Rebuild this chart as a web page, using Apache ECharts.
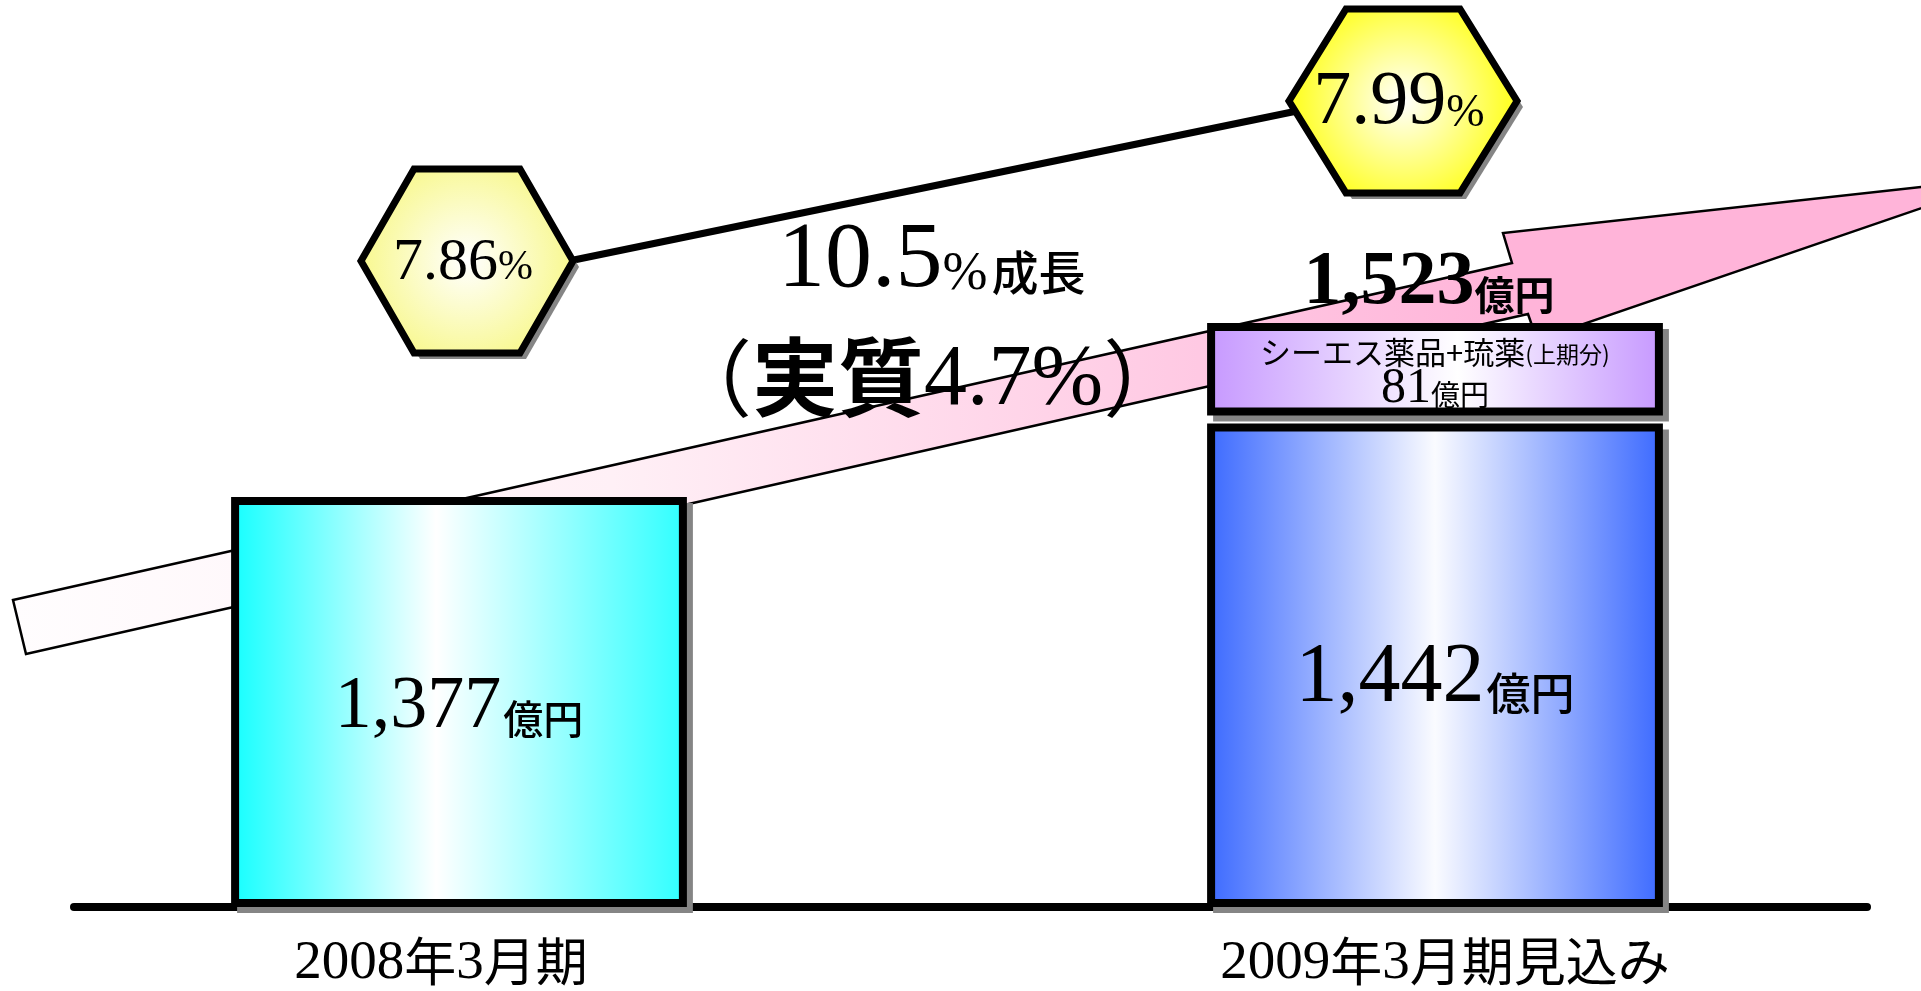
<!DOCTYPE html>
<html>
<head>
<meta charset="utf-8">
<script src="https://cdn.jsdelivr.net/npm/echarts@6/dist/echarts.min.js"></script>
<style>
html,body{margin:0;padding:0;background:#fff;}
#c{width:1921px;height:991px;}
</style>
</head>
<body>
<div id="c"></div>
<script>
// ---------------- data ----------------
const categories = ['2008年3月期', '2009年3月期見込み'];
const baseSales = [1377, 1442];          // 億円
const addedSales = [null, 81];           // シーエス薬品+琉薬（上期分）
const addedLabel = 'シーエス薬品+琉薬';
const addedNote = '(上期分)';
const margins = [7.86, 7.99];            // %
const growthRate = 10.5;                 // %
const realGrowthRate = 4.7;              // %
const unitLabel = '億円';
const growthWord = '成長';
const realWord = '実質';

// ---------------- scales ----------------
const AXIS_MIN = 1040, AXIS_MAX = 1590;
const MARGIN_MIN = 7.5, MARGIN_MAX = 8.0;

const SERIF = '"Liberation Serif","Times New Roman",serif';
const SANS = '"Noto Sans CJK JP","Noto Sans",sans-serif';

const BAR_FRAC = 0.467, BORDER = 8, SHADOW = 6, GAP = 8;
const fmt = v => v.toLocaleString('en-US');

function grad(stops) {
  return {type: 'linear', x: 0, y: 0, x2: 1, y2: 0,
    colorStops: stops.map(s => ({offset: s[0], color: s[1]}))};
}
const barFills = [
  grad([[0, '#14ffff'], [0.45, '#ffffff'], [1, '#2effff']]),
  grad([[0, '#3b69ff'], [0.5, '#fafbff'], [1, '#3b69ff']])
];
const addedFill = grad([[0, '#c698ff'], [0.55, '#ffffff'], [1, '#c698ff']]);
const numSize = [74, 84];
const unitSize = [40, 44];
const labelDy = [10, 18];

function boxEls(x0, y0, w, h, fill) {
  return [
    {type: 'rect', shape: {x: x0 + SHADOW, y: y0 + SHADOW, width: w, height: h},
     style: {fill: '#858585'}},
    {type: 'rect', shape: {x: x0 + BORDER / 2, y: y0 + BORDER / 2, width: w - BORDER, height: h - BORDER},
     style: {fill: fill, stroke: '#000', lineWidth: BORDER}}
  ];
}

function renderBar(params, api) {
  const i = api.value(0), v = api.value(1);
  const hasTop = addedSales[i] != null;
  const top = api.coord([i, v]);
  const base = api.coord([i, AXIS_MIN]);
  const bw = api.size([1, 0])[0] * BAR_FRAC;
  const x0 = top[0] - bw / 2;
  const y0 = top[1] + (hasTop ? GAP / 2 : 0);
  const y1 = base[1] + BORDER;
  const children = boxEls(x0, y0, bw, y1 - y0, barFills[i]);
  children.push({
    type: 'text',
    style: {
      x: top[0], y: (y0 + base[1]) / 2 + labelDy[i],
      text: '{n|' + fmt(v) + '}{u|' + unitLabel + '}',
      align: 'center', verticalAlign: 'middle',
      rich: {
        n: {fontFamily: SERIF, fontSize: numSize[i], fill: '#000', verticalAlign: 'bottom',
            textShadowColor: '#fff', textShadowOffsetX: 2, textShadowOffsetY: 2},
        u: {fontFamily: SANS, fontSize: unitSize[i], fontWeight: 500, fill: '#000', verticalAlign: 'bottom',
            padding: [0, 0, 6, 2],
            textShadowColor: '#fff', textShadowOffsetX: 2, textShadowOffsetY: 2}
      }
    }
  });
  return {type: 'group', children: children};
}

function renderAdded(params, api) {
  const i = api.value(0), b = api.value(1), a = api.value(2);
  const top = api.coord([i, b + a]);
  const bot = api.coord([i, b]);
  const bw = api.size([1, 0])[0] * BAR_FRAC;
  const x0 = top[0] - bw / 2;
  const y0 = top[1];
  const y1 = bot[1] - GAP / 2;
  const children = boxEls(x0, y0, bw, y1 - y0, addedFill);
  children.push({
    type: 'text',
    style: {
      x: top[0], y: y0 + 29, text: '{k|' + addedLabel + '}{s|' + addedNote + '}',
      align: 'center', verticalAlign: 'middle',
      rich: {
        k: {fontFamily: SANS, fontSize: 31, fill: '#000', verticalAlign: 'bottom'},
        s: {fontFamily: SANS, fontSize: 23, fill: '#000', verticalAlign: 'bottom', padding: [0, 0, 2, 0]}
      }
    }
  });
  children.push({
    type: 'text',
    style: {
      x: top[0], y: y1 - 2, text: '{n|' + fmt(a) + '}{u|' + unitLabel + '}',
      align: 'center', verticalAlign: 'bottom',
      rich: {
        n: {fontFamily: SERIF, fontSize: 50, fill: '#000', verticalAlign: 'bottom'},
        u: {fontFamily: SANS, fontSize: 29, fill: '#000', verticalAlign: 'bottom', padding: [0, 0, 4, 0]}
      }
    }
  });
  children.push({
    type: 'text',
    style: {
      x: top[0] - 6, y: y0 - 2, text: '{n|' + fmt(b + a) + '}{u|' + unitLabel + '}',
      align: 'center', verticalAlign: 'bottom',
      rich: {
        n: {fontFamily: SERIF, fontSize: 76, fontWeight: 'bold', fill: '#000', verticalAlign: 'bottom',
            textShadowColor: '#aaa', textShadowOffsetX: 3, textShadowOffsetY: 3},
        u: {fontFamily: SANS, fontSize: 40, fontWeight: 'bold', fill: '#000', verticalAlign: 'bottom',
            padding: [0, 0, 6, 0],
            textShadowColor: '#aaa', textShadowOffsetX: 3, textShadowOffsetY: 3}
      }
    }
  });
  return {type: 'group', children: children};
}

const HEX_HW = [106, 114], HEX_HH = 92;
const hexEdge = ['#f8f890', '#ffff2a'];
const hexNum = [60, 76], hexPct = [42, 46];
function hexPts(cx, cy, hw, hh) {
  return [[-hw, 0], [-hw / 2, -hh], [hw / 2, -hh], [hw, 0], [hw / 2, hh], [-hw / 2, hh]]
    .map(p => [cx + p[0], cy + p[1]]);
}
function renderHex(params, api) {
  const i = api.value(0), m = api.value(1);
  const c = api.coord([i, m]);
  const hw = HEX_HW[i];
  const children = [];
  if (i < margins.length - 1) {
    const n = api.coord([i + 1, margins[i + 1]]);
    children.push({type: 'line',
      shape: {x1: c[0] + hw - 4, y1: c[1], x2: n[0] - HEX_HW[i + 1] + 8, y2: n[1] + 10},
      style: {stroke: '#000', lineWidth: 7}});
  }
  children.push({type: 'polygon', shape: {points: hexPts(c[0] + SHADOW, c[1] + SHADOW, hw, HEX_HH)},
    style: {fill: '#858585'}});
  children.push({type: 'polygon', shape: {points: hexPts(c[0], c[1], hw, HEX_HH)},
    style: {
      fill: {type: 'radial', x: 0.5, y: 0.5, r: 0.55,
        colorStops: [{offset: 0, color: '#ffffff'}, {offset: 1, color: hexEdge[i]}]},
      stroke: '#000', lineWidth: 7, lineJoin: 'miter'
    }});
  children.push({
    type: 'text',
    style: {
      x: c[0] - 4, y: c[1] + 2, text: '{d|' + m.toFixed(2) + '}{p|%}',
      align: 'center', verticalAlign: 'middle',
      rich: {
        d: {fontFamily: SERIF, fontSize: hexNum[i], fill: '#000', verticalAlign: 'bottom',
            textShadowColor: '#fff', textShadowOffsetX: 2, textShadowOffsetY: 2},
        p: {fontFamily: SERIF, fontSize: hexPct[i], fill: '#000', verticalAlign: 'bottom', padding: [0, 0, 4, 0],
            textShadowColor: '#fff', textShadowOffsetX: 2, textShadowOffsetY: 2}
      }
    }
  });
  return {type: 'group', children: children};
}

function catLabel(value, index) {
  const body = value.split(/(\d+)/).filter(Boolean)
    .map(s => /\d/.test(s) ? '{d|' + s + '}' : '{k|' + s + '}').join('');
  return index === 0 ? body + '{gr| }' : '{gl| }' + body;
}

const shadowTxt = {textShadowColor: '#b4b4b4', textShadowOffsetX: 3, textShadowOffsetY: 3, textShadowBlur: 0};

const option = {
  animation: false,
  backgroundColor: '#ffffff',
  grid: [
    {left: 459, right: 486, top: 243, bottom: 88},
    {left: 74, right: 54, bottom: 84, height: 10},
    {left: 467, right: 518, top: 88.7, height: 615.4}
  ],
  xAxis: [
    {type: 'category', gridIndex: 0, data: categories, boundaryGap: false,
     axisLine: {show: false}, axisTick: {show: false}, splitLine: {show: false},
     axisLabel: {margin: 34, formatter: catLabel, interval: 0,
       rich: {
         d: {fontFamily: SERIF, fontSize: 55, color: '#000', verticalAlign: 'bottom', lineHeight: 58},
         k: {fontFamily: SANS, fontSize: 52, color: '#000', verticalAlign: 'bottom', lineHeight: 58, padding: [0, 0, 4, 0]},
         gr: {width: 36, fontSize: 10},
         gl: {width: 20, fontSize: 10}
       }}},
    {type: 'value', gridIndex: 1, min: 0, max: 1,
     axisLine: {show: true, onZero: false, lineStyle: {color: '#000', width: 8}},
     axisTick: {show: false}, axisLabel: {show: false}, splitLine: {show: false}},
    {type: 'category', gridIndex: 2, data: categories, boundaryGap: false, show: false}
  ],
  yAxis: [
    {type: 'value', gridIndex: 0, min: AXIS_MIN, max: AXIS_MAX, show: false, splitLine: {show: false}},
    {type: 'value', gridIndex: 1, show: false, splitLine: {show: false}},
    {type: 'value', gridIndex: 2, min: MARGIN_MIN, max: MARGIN_MAX, show: false, splitLine: {show: false}}
  ],
  graphic: [
    {type: 'polygon', z: 0,
     shape: {points: [[13, 600], [1512, 263], [1503, 233], [2012, 177], [1537, 340], [1528, 314], [26, 654]]},
     style: {
       fill: {type: 'linear', x: 0, y: 0, x2: 1, y2: 0, colorStops: [
         {offset: 0, color: '#fffdfe'}, {offset: 0.3, color: '#fff0f6'},
         {offset: 0.75, color: '#ffb4d9'}, {offset: 1, color: '#ffb4d9'}]},
       stroke: '#000', lineWidth: 2.5, lineJoin: 'miter'
     }},
    {type: 'text', z: 10, x: 778, y: 308,
     style: {
       text: '{a|' + growthRate + '}{b|%}{c|' + growthWord + '}',
       align: 'left', verticalAlign: 'bottom',
       rich: {
         a: Object.assign({fontFamily: SERIF, fontSize: 94, fill: '#000', verticalAlign: 'bottom'}, shadowTxt),
         b: Object.assign({fontFamily: SERIF, fontSize: 54, fill: '#000', verticalAlign: 'bottom', padding: [0, 4, 6, 0]}, shadowTxt),
         c: Object.assign({fontFamily: SANS, fontSize: 47, fontWeight: 500, fill: '#000', verticalAlign: 'bottom', padding: [0, 0, 12, 0]}, shadowTxt)
       }
     }},
    {type: 'text', z: 10, x: 668, y: 424,
     style: {
       text: '{p|（}{k|' + realWord + '}{d|' + realGrowthRate + '%}{p|）}',
       align: 'left', verticalAlign: 'bottom',
       rich: {
         p: Object.assign({fontFamily: SANS, fontSize: 84, fill: '#000', verticalAlign: 'bottom', padding: [0, 0, 4, 0]}, shadowTxt),
         k: Object.assign({fontFamily: SANS, fontSize: 86, fontWeight: 'bold', fill: '#000', verticalAlign: 'bottom', padding: [0, 0, 4, 0]}, shadowTxt),
         d: Object.assign({fontFamily: SERIF, fontSize: 86, fill: '#000', verticalAlign: 'bottom'}, shadowTxt)
       }
     }}
  ],
  series: [
    {type: 'custom', name: '売上高', xAxisIndex: 0, yAxisIndex: 0, z: 3,
     data: baseSales.map((v, i) => [i, v]), renderItem: renderBar},
    {type: 'custom', name: addedLabel, xAxisIndex: 0, yAxisIndex: 0, z: 3,
     data: addedSales.map((v, i) => v == null ? null : [i, baseSales[i], v]).filter(d => d),
     renderItem: renderAdded},
    {type: 'custom', name: '利益率', xAxisIndex: 2, yAxisIndex: 2, z: 4,
     data: margins.map((m, i) => [i, m]), renderItem: renderHex}
  ]
};

const chart = echarts.init(document.getElementById('c'));
chart.setOption(option);
</script>
</body>
</html>
